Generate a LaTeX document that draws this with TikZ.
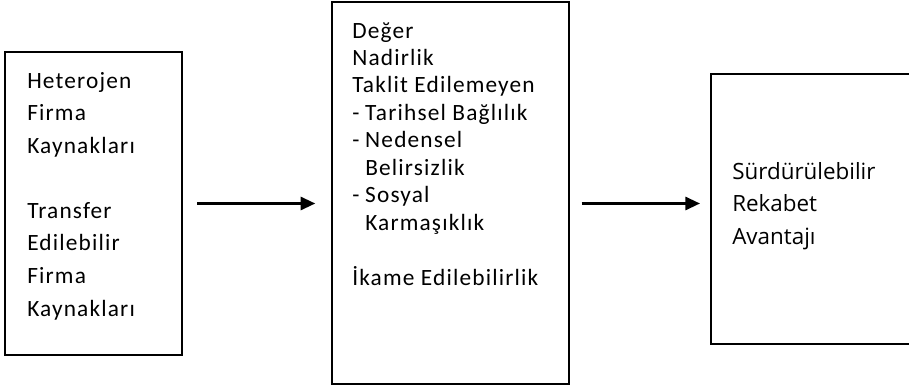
\documentclass[tikz,border=0pt]{standalone}
\usepackage{fontspec}
\newfontfamily\bodyfont{Carlito}[LetterSpace=5]
\newfontfamily\sidefont{Open Sans}
\usetikzlibrary{arrows.meta,calc,fit,positioning}

\newcommand{\dashitem}{\makebox[9.75pt][l]{-}}

\begin{document}
\begin{tikzpicture}[x=0.75pt, y=-0.75pt,
  frame/.style={draw, line width=1.2pt, inner sep=0pt},
  blocktext/.style={anchor=north west, align=left, inner sep=0pt},
  link/.style={line width=1.6pt, -{Triangle[length=11pt, width=10pt]}}]
  \useasboundingbox (0,0) rectangle (909,388);

  % === Boxes ===
  \node[frame, fit={(5,52) (182,355)}] (res) {};
  \node[frame, fit={(332,2) (569,384)}] (vrio) {};
  \node[frame, fit={(711,74) (915,344)}] (adv) {};

  % === Texts ===
  \node[blocktext, font={\bodyfont\fontsize{17.5pt}{24.4pt}\selectfont}] (restxt) at (27,72)
    {Heterojen\\Firma\\Kaynakları\\[24.4pt]Transfer\\Edilebilir\\Firma\\Kaynakları};
  \node[blocktext, font={\bodyfont\fontsize{17.5pt}{20.6pt}\selectfont}] (vriotxt) at (352,22)
    {Değer\\Nadirlik\\Taklit Edilemeyen\\\dashitem Tarihsel Bağlılık\\\dashitem Nedensel\\
     \hspace*{9.75pt}Belirsizlik\\\dashitem Sosyal\\\hspace*{9.75pt}Karmaşıklık\\[21pt]İkame Edilebilirlik};
  \node[blocktext, font={\sidefont\fontsize{16.8pt}{24.4pt}\selectfont}] (advtxt) at (732,162)
    {Sürdürülebilir\\Rekabet\\Avantajı};

  % === Arrows ===
  \draw[link, shorten <=11pt, shorten >=12pt] (res.east) -- (res.east -| vrio.west);
  \draw[link, shorten <=8.8pt, shorten >=7.7pt] (vrio.east |- res.east) -- (res.east -| adv.west);
\end{tikzpicture}
\end{document}
